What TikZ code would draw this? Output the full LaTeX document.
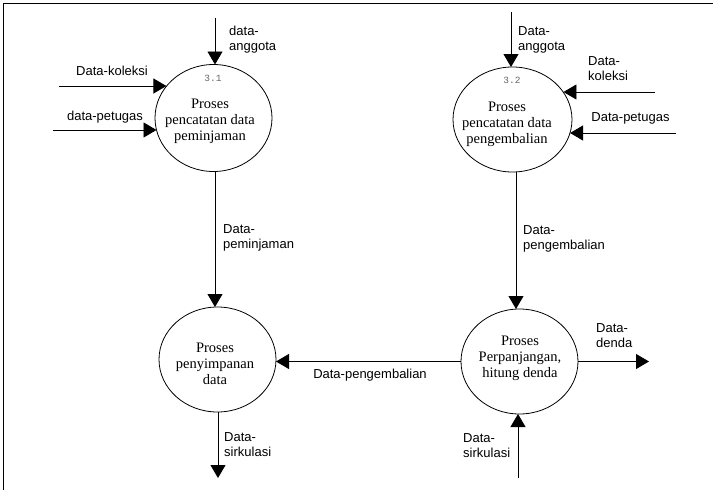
\documentclass[tikz,border=0pt]{standalone}
\usepackage{fontspec}
\setmainfont{Liberation Serif}
\setsansfont{Liberation Sans}
\setmonofont{Liberation Mono}
\usetikzlibrary{shapes.geometric,arrows.meta}

\begin{document}
\begin{tikzpicture}[x=1pt,y=-1pt,
  proc/.style={draw, ellipse, line width=0.8pt, inner sep=0pt, outer sep=0pt},
  ptext/.style={font=\fontsize{14.5}{16}\selectfont, align=center, inner sep=0pt},
  flow/.style={line width=0.9pt, -{Triangle[length=13pt,width=15pt]}},
  lbl/.style={font=\sffamily\fontsize{13}{15}\selectfont, align=left, anchor=west, inner sep=0pt},
  num/.style={font=\ttfamily\fontsize{9.5}{10}\selectfont, text=black!60, inner sep=0pt}]

\useasboundingbox (0,0) rectangle (713,490);
% page frame (top and left edges)
\draw[line width=1.5pt] (3.5,490) -- (3.5,3.5) -- (713,3.5);

% processes
\node[proc, minimum width=117pt, minimum height=107pt] (p1) at (213.5,118) {};
\node[proc, minimum width=119pt, minimum height=105pt] (p2) at (512.5,119.5) {};
\node[proc, minimum width=117pt, minimum height=105pt] (p3) at (217.5,359.5) {};
\node[proc, minimum width=117pt, minimum height=105pt] (p4) at (519.5,361.5) {};

\node[num] (n1) at (213,78) {3.1};
\node[num] (n2) at (512,80) {3.2};

\node[ptext] (t1) at (210,121.5) {Proses\\pencatatan data\\peminjaman};
\node[ptext] (t2) at (507,124) {Proses\\pencatatan data\\pengembalian};
\node[ptext] (t3) at (215,364) {Proses\\penyimpanan\\data};
\node[ptext] (t4) at (520,358) {Proses\\Perpanjangan,\\hitung denda};

% free ends of the flows
\coordinate (a1) at (215,18);
\coordinate (k1) at (59,86);
\coordinate (g1) at (53,130);
\coordinate (v1) at (215,0);
\coordinate (a2) at (511,12);
\coordinate (k2) at (655,92);
\coordinate (g2) at (676,133);
\coordinate (v2) at (516,0);
\coordinate (dd) at (649,361.5);
\coordinate (su) at (518,478);
\coordinate (sd) at (218,478);

% flows
\draw[flow] (a1) -- (a1 |- p1.north);
\draw[flow] (k1) -- (k1 -| p1.146);
\draw[flow] (g1) -- (g1 -| p1.192);
\draw[flow] (v1 |- p1.south) -- (v1 |- p3.north);
\draw[flow] (a2) -- (a2 |- p2.north);
\draw[flow] (k2) -- (k2 -| p2.28.5);
\draw[flow] (g2) -- (g2 -| p2.347);
\draw[flow] (v2 |- p2.south) -- (v2 |- p4.north);
\draw[flow] (p4.west) -- (p4.west -| p3.east);
\draw[flow] (p4.east) -- (dd);
\draw[flow] (su) -- (su |- p4.south);
\draw[flow] (sd |- p3.south) -- (sd);

% flow labels
\node[lbl] (l1) at (229,40) {data-\\anggota};
\node[lbl, anchor=center] (l2) at (112,71) {Data-koleksi};
\node[lbl, anchor=center] (l3) at (105,117) {data-petugas};
\node[lbl] (l4) at (223,238) {Data-\\peminjaman};
\node[lbl] (l5) at (518,40) {Data-\\anggota};
\node[lbl] (l6) at (588,68.5) {Data-\\koleksi};
\node[lbl, anchor=center] (l7) at (630.5,118) {Data-petugas};
\node[lbl] (l8) at (523,239) {Data-\\pengembalian};
\node[lbl, anchor=center] (l9) at (370,375) {Data-pengembalian};
\node[lbl] (l10) at (596,336) {Data-\\denda};
\node[lbl] (l11) at (463,446) {Data-\\sirkulasi};
\node[lbl] (l12) at (224,445) {Data-\\sirkulasi};
\end{tikzpicture}
\end{document}
